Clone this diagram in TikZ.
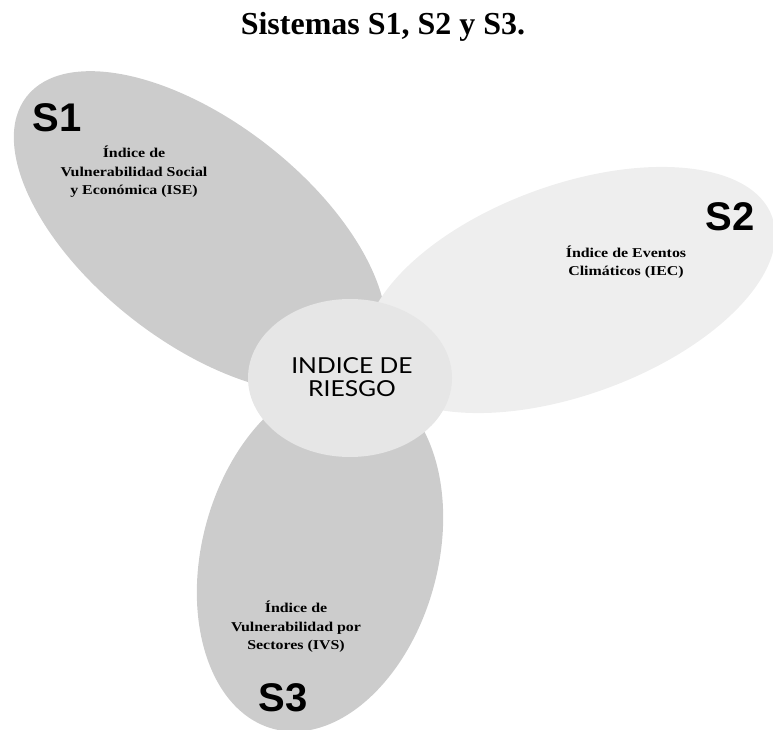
\documentclass[tikz,border=0pt]{standalone}
\usepackage{fontspec}
\setmainfont{Liberation Serif}
\newfontfamily\labfont{Liberation Sans}
\newfontfamily\wideserif[FakeStretch=1.18]{Liberation Serif}
\newfontfamily\gillfont[FakeStretch=1.12]{Lato}
\definecolor{darkpetal}{HTML}{CCCCCC}
\definecolor{lightpetal}{HTML}{EEEEEE}
\definecolor{hubfill}{HTML}{E6E6E6}
\begin{document}
\begin{tikzpicture}[x=1pt,y=1pt,
  syslabel/.style={inner sep=0pt,font=\labfont\bfseries\fontsize{40}{40}\selectfont},
  systext/.style={inner sep=0pt,align=center,font=\wideserif\bfseries\fontsize{13.5}{18.5}\selectfont},
  hubtext/.style={inner sep=0pt,align=center,font=\gillfont\fontsize{22}{23.5}\selectfont}]
\useasboundingbox (0,0) rectangle (773,729);
% petals
\fill[darkpetal] (200,497) ellipse[x radius=220,y radius=110,rotate=-38];
\fill[darkpetal] (320,174) ellipse[x radius=118,y radius=180,rotate=-15];
\fill[lightpetal] (570,439) ellipse[x radius=215,y radius=105,rotate=20];
\fill[hubfill] (350,351) ellipse[x radius=102,y radius=79];
% title
\node[inner sep=0pt,font=\bfseries\fontsize{32}{32}\selectfont] (title) at (383,702) {Sistemas S1, S2 y S3.};
% labels
\node[syslabel] (s1) at (57,611) {S1};
\node[syslabel] (s2) at (730,512) {S2};
\node[syslabel] (s3) at (283,31) {S3};
\node[systext] (t1) at (134,557) {Índice de\\Vulnerabilidad Social\\y Económica (ISE)};
\node[systext] (t2) at (626,467) {Índice de Eventos\\Climáticos (IEC)};
\node[systext] (t3) at (296,102) {Índice de\\Vulnerabilidad por\\Sectores (IVS)};
\node[hubtext] (hub) at (352,352) {INDICE DE\\RIESGO};
\end{tikzpicture}
\end{document}
